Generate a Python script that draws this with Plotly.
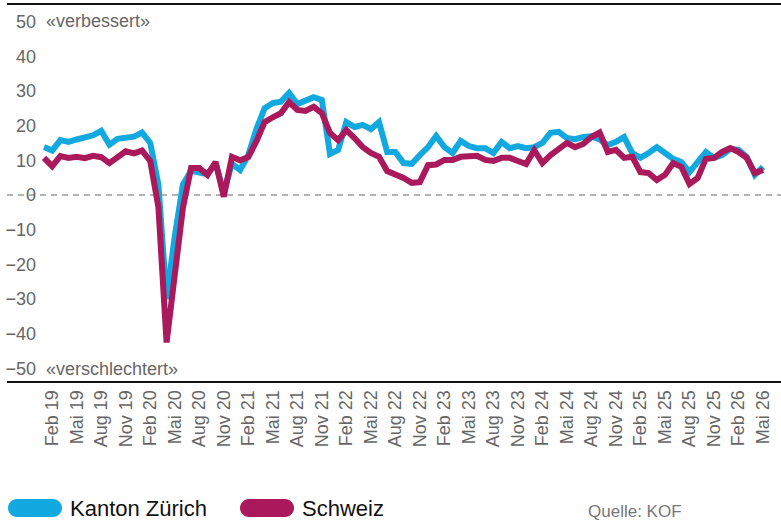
import plotly.graph_objects as go

# ---------------- data ----------------
months = [f"{y}-{m:02d}" for y in range(2019, 2027) for m in range(1, 13)][:89]  # Jan 2019 .. May 2026

zurich = [
    13.8, 12.8, 15.8, 15.3, 16.0, 16.6, 17.2, 18.5, 14.5, 16.2, 16.7, 16.8,   # 2019
    18.0, 15.0, 3.0, -30.0, -12.0, 3.0, 7.0, 6.5, 6.0, 9.0, 1.0, 9.0,          # 2020
    7.2, 11.5, 19.0, 25.0, 26.5, 26.9, 29.4, 26.2, 27.1, 28.2, 27.4, 11.8,     # 2021
    13.0, 21.0, 19.6, 20.2, 19.0, 21.0, 12.4, 12.4, 9.2, 9.0, 11.5, 13.8,      # 2022
    17.0, 13.8, 12.1, 15.6, 14.1, 13.5, 13.5, 12.1, 15.3, 13.5, 14.1, 13.5,    # 2023
    13.8, 15.0, 17.9, 18.2, 16.4, 16.1, 16.7, 16.9, 16.0, 14.4, 15.3, 16.7,    # 2024
    12.1, 10.7, 12.1, 13.8, 12.1, 10.4, 9.5, 6.6, 9.5, 12.4, 10.7, 11.5,       # 2025
    13.3, 13.0, 11.0, 5.8, 8.1,                                                # 2026
]

schweiz = [
    10.7, 8.3, 11.2, 10.7, 11.0, 10.6, 11.3, 10.9, 9.2, 11.0, 12.6, 12.0,      # 2019
    12.8, 9.8, -3.5, -42.5, -21.6, -3.7, 7.8, 7.8, 5.8, 9.5, -0.5, 11.0,       # 2020
    10.0, 10.9, 15.5, 21.0, 22.4, 23.6, 26.8, 24.5, 24.2, 25.4, 23.6, 17.9,    # 2021
    15.8, 18.7, 16.4, 13.8, 12.1, 11.0, 6.9, 6.1, 4.9, 3.5, 3.7, 8.6,          # 2022
    8.8, 10.1, 10.1, 11.0, 11.0, 11.3, 10.1, 9.8, 10.7, 10.7, 9.8, 8.9,        # 2023
    12.9, 9.2, 11.5, 13.5, 15.0, 13.8, 14.7, 16.7, 18.0, 12.4, 13.0, 10.7,     # 2024
    11.0, 6.6, 6.3, 4.3, 5.8, 9.2, 8.1, 3.2, 4.9, 10.4, 10.7, 12.4,            # 2025
    13.5, 12.4, 10.7, 6.3, 7.2,                                                # 2026
]

tick_labels = [
    "Feb 19", "Mai 19", "Aug 19", "Nov 19", "Feb 20", "Mai 20", "Aug 20", "Nov 20",
    "Feb 21", "Mai 21", "Aug 21", "Nov 21", "Feb 22", "Mai 22", "Aug 22", "Nov 22",
    "Feb 23", "Mai 23", "Aug 23", "Nov 23", "Feb 24", "Mai 24", "Aug 24", "Nov 24",
    "Feb 25", "Mai 25", "Aug 25", "Nov 25", "Feb 26", "Mai 26",
]
y_ticks = [-50, -40, -30, -20, -10, 0, 10, 20, 30, 40, 50]

series_names = ["Kanton Zürich", "Schweiz"]
colors = ["#12A8E0", "#A9195B"]

# ---------------- geometry ----------------
W, H = 781, 521
ML, MR, MT, MB = 7, 0, 4, 140
PW, PH = W - ML - MR, H - MT - MB

def pp(x, y):
    return ((x - ML) / PW, (H - MB - y) / PH)

def pill(x0, x1, y0, y1):
    r = (y1 - y0) / 2
    cy = (y0 + y1) / 2
    k = 0.5523 * r
    pts = [
        ("M", [(x0 + r, y0)]),
        ("L", [(x1 - r, y0)]),
        ("C", [(x1 - r + k, y0), (x1, cy - k), (x1, cy)]),
        ("C", [(x1, cy + k), (x1 - r + k, y1), (x1 - r, y1)]),
        ("L", [(x0 + r, y1)]),
        ("C", [(x0 + r - k, y1), (x0, cy + k), (x0, cy)]),
        ("C", [(x0, cy - k), (x0 + r - k, y0), (x0 + r, y0)]),
    ]
    s = ""
    for cmd, ps in pts:
        s += cmd + " ".join("%.5f,%.5f" % pp(a, b) for a, b in ps) + " "
    return s + "Z"

x_idx = list(range(len(months)))
tick_vals = [i for i, m in enumerate(months) if int(m[5:]) in (2, 5, 8, 11)]

fig = go.Figure()
for name, vals, col in zip(series_names, [zurich, schweiz], colors):
    fig.add_trace(go.Scatter(
        x=x_idx, y=vals, mode="lines", name=name,
        line=dict(color=col, width=6),
        hoverinfo="skip",
    ))

fig.update_layout(
    width=W, height=H,
    margin=dict(l=ML, r=MR, t=MT, b=MB, pad=0),
    paper_bgcolor="white", plot_bgcolor="white",
    showlegend=False,
    font=dict(family="Liberation Sans, Arial, sans-serif", color="#666666"),
    xaxis=dict(
        range=[-4.53, 90.2],
        tickmode="array", tickvals=tick_vals, ticktext=tick_labels,
        tickangle=-90, tickfont=dict(size=18, color="#666666"),
        ticks="", showgrid=False, zeroline=False,
        showline=True, linecolor="#111111", linewidth=2,
    ),
    yaxis=dict(
        range=[-53.6, 55.04],
        tickmode="array", tickvals=y_ticks,
        tickfont=dict(size=18, color="#666666"),
        ticks="", showgrid=False, zeroline=False, showline=False,
        anchor="free", position=(36 - ML) / PW,
    ),
)

shapes = [
    dict(type="line", xref="paper", yref="y", x0=0, x1=1, y0=0, y1=0,
         line=dict(color="#9a9a9a", width=1.5, dash="6px,5px"), layer="below"),
    dict(type="line", xref="paper", yref="paper", x0=0, x1=1, y0=1, y1=1,
         line=dict(color="#111111", width=2)),
    dict(type="path", xref="paper", yref="paper", path=pill(8, 62, 499, 517),
         fillcolor=colors[0], line=dict(width=0)),
    dict(type="path", xref="paper", yref="paper", path=pill(240, 294, 499, 517),
         fillcolor=colors[1], line=dict(width=0)),
]
fig.update_layout(shapes=shapes)

ann = []
ann.append(dict(text="«verbessert»", x=pp(44, 0)[0], xref="paper", y=50, yref="y",
                xanchor="left", yanchor="middle", showarrow=False,
                font=dict(size=18, color="#666666")))
ann.append(dict(text="«verschlechtert»", x=pp(44, 0)[0], xref="paper", y=-50, yref="y",
                xanchor="left", yanchor="middle", showarrow=False,
                font=dict(size=18, color="#666666")))
for name, xl in zip(series_names, [68, 300]):
    ann.append(dict(text=name, x=pp(xl, 0)[0], y=pp(0, 508)[1], xref="paper", yref="paper",
                    xanchor="left", yanchor="middle", showarrow=False,
                    font=dict(size=22, color="#111111")))
ann.append(dict(text="Quelle: KOF", x=pp(586, 0)[0], y=pp(0, 511)[1], xref="paper", yref="paper",
                xanchor="left", yanchor="middle", showarrow=False,
                font=dict(size=17, color="#777777")))
fig.update_layout(annotations=ann)

fig.write_html(
    "out.html",
    config={"displayModeBar": False, "staticPlot": True},
    post_script="document.body.style.margin='0';document.body.style.padding='0';document.body.style.overflow='hidden';",
)
